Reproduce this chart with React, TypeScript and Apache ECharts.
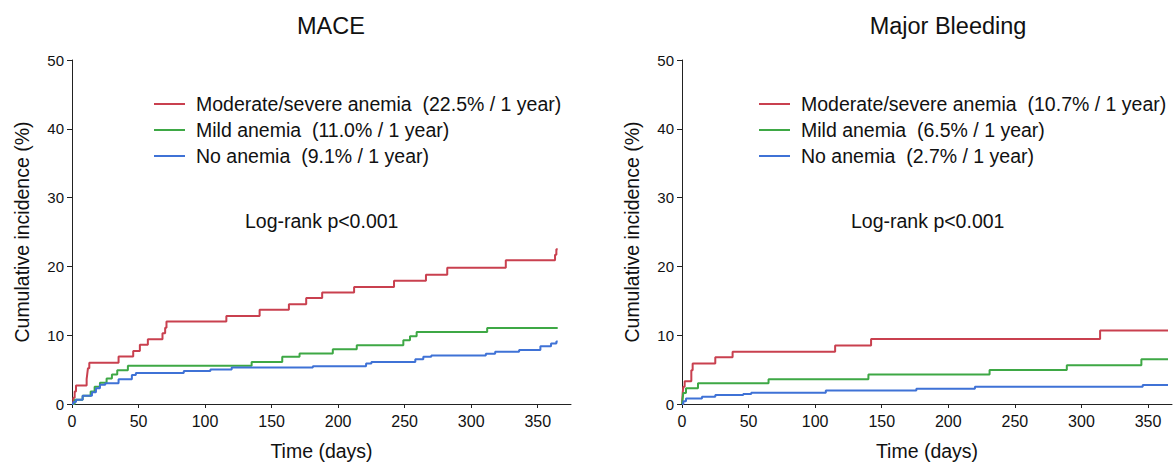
import React, { useEffect, useRef } from "react";
import * as echarts from "echarts";

const xTickValues = [0, 50, 100, 150, 200, 250, 300, 350];
const titles = ["MACE", "Major Bleeding"];
const legendLeft = [
  "Moderate/severe anemia  (22.5% / 1 year)",
  "Mild anemia  (11.0% / 1 year)",
  "No anemia  (9.1% / 1 year)",
];
const legendRight = [
  "Moderate/severe anemia  (10.7% / 1 year)",
  "Mild anemia  (6.5% / 1 year)",
  "No anemia  (2.7% / 1 year)",
];

const maceSevere = [[0,0],[1,0.9],[2,1.8],[3,2.7],[11,3.6],[11.5,4.4],[12,5.2],[13,6.0],[35,6.9],[46,7.7],[51,8.6],[57,9.4],[68,10.3],[70,11.1],[71,12.0],[116,12.8],[141,13.7],[163,14.5],[176,15.4],[188,16.2],[212,17.0],[242,17.9],[266,18.8],[282,19.8],[326,20.9],[363,21.7],[364,22.5],[365,22.5]];
const maceMild = [[0,0],[2,0.6],[8,1.2],[14,1.8],[17,2.5],[21,3.1],[26,3.7],[30,4.3],[34,4.9],[42,5.55],[135,6.1],[158,6.85],[171,7.35],[196,7.95],[214,8.55],[249,9.25],[254,9.85],[259,10.45],[312,11.05],[365,11.05]];
const maceNone = [[0,0],[1,0.3],[3,0.6],[8,1.2],[15,1.7],[18,2.3],[21,2.8],[25,3.0],[35,3.6],[45,4.2],[48,4.5],[84,4.8],[104,5.0],[120,5.3],[181,5.5],[221,5.9],[225,6.1],[258,6.5],[264,6.85],[270,7.05],[311,7.3],[318,7.6],[336,7.85],[352,8.4],[360,8.8],[364,9.1],[365,9.1]];

const bleedSevere = [[0,0],[0.5,1.6],[1,2.5],[2,3.3],[7,4.9],[8,5.9],[25,6.8],[38,7.6],[115,8.5],[142,9.45],[314,10.7],[365,10.7]];
const bleedMild = [[0,0],[0.5,0.8],[1,1.6],[3,2.3],[12,3.0],[65,3.6],[140,4.3],[231,4.95],[289,5.65],[345,6.5],[365,6.5]];
const bleedNone = [[0,0],[1,0.4],[3,0.8],[15,1.05],[25,1.3],[46,1.45],[52,1.65],[108,1.95],[176,2.2],[220,2.5],[346,2.75],[365,2.75]];

const colors = ["#c9404f", "#3ea845", "#3f72d6"];
const FONT = "Liberation Sans, Arial, sans-serif";

export default function App() {
  const ref = useRef<HTMLDivElement>(null);
  useEffect(() => {
    if (!ref.current) return;
    const chart = echarts.init(ref.current, null, { renderer: "svg" });
    const axisCommonX = (gi: number, max: number) => ({
      type: "value",
      gridIndex: gi,
      min: 0,
      max,
      name: "Time (days)",
      nameLocation: "middle",
      nameGap: 37,
      nameTextStyle: { fontSize: 19.5, color: "#111", fontFamily: FONT },
      axisLine: { show: true, lineStyle: { color: "#222", width: 1 } },
      axisTick: { show: true, length: 4, lineStyle: { color: "#222" }, customValues: xTickValues },
      axisLabel: { fontSize: 16, color: "#111", fontFamily: FONT, margin: 9, customValues: xTickValues },
      splitLine: { show: false },
    });
    const axisCommonY = (gi: number) => ({
      type: "value",
      gridIndex: gi,
      min: 0,
      max: 50,
      interval: 10,
      name: "Cumulative incidence (%)",
      nameLocation: "middle",
      nameGap: 40,
      nameTextStyle: { fontSize: 19.5, color: "#111", fontFamily: FONT },
      axisLine: { show: true, lineStyle: { color: "#222", width: 1 } },
      axisTick: { show: true, length: 5, lineStyle: { color: "#222" } },
      axisLabel: { fontSize: 15, color: "#111", fontFamily: FONT, margin: 8 },
      splitLine: { show: false },
    });
    const mk = (name: string, data: number[][], i: number, gi: number) => ({
      type: "line",
      name,
      data,
      step: "end",
      xAxisIndex: gi,
      yAxisIndex: gi,
      showSymbol: false,
      symbol: "none",
      lineStyle: { color: colors[i], width: 2 },
      itemStyle: { color: colors[i] },
    });
    const legendBase = {
      orient: "vertical",
      top: 89,
      itemWidth: 31,
      itemHeight: 2,
      itemGap: 6,
      icon: "rect",
      textStyle: { fontSize: 19.5, color: "#111", fontFamily: FONT, padding: [0, 0, 0, 6] },
    };
    chart.setOption({
      animation: false,
      backgroundColor: "#fff",
      title: [
        { text: titles[0], left: 326, top: 9, textAlign: "center", textStyle: { fontSize: 23.5, fontWeight: "normal", color: "#111", fontFamily: FONT } },
        { text: titles[1], left: 943, top: 9, textAlign: "center", textStyle: { fontSize: 23.5, fontWeight: "normal", color: "#111", fontFamily: FONT } },
      ],
      legend: [
        { ...legendBase, data: legendLeft, left: 149 },
        { ...legendBase, data: legendRight, left: 754 },
      ],
      grid: [
        { left: 72, top: 60, width: 499, height: 344 },
        { left: 682, top: 60, width: 490, height: 344 },
      ],
      xAxis: [axisCommonX(0, 375), axisCommonX(1, 368)],
      yAxis: [axisCommonY(0), axisCommonY(1)],
      graphic: [
        { type: "text", left: 245, top: 211, style: { text: "Log-rank p<0.001", fontSize: 19.5, fill: "#111", fontFamily: FONT } },
        { type: "text", left: 851, top: 211, style: { text: "Log-rank p<0.001", fontSize: 19.5, fill: "#111", fontFamily: FONT } },
      ],
      series: [
        mk(legendLeft[0], maceSevere, 0, 0),
        mk(legendLeft[1], maceMild, 1, 0),
        mk(legendLeft[2], maceNone, 2, 0),
        mk(legendRight[0], bleedSevere, 0, 1),
        mk(legendRight[1], bleedMild, 1, 1),
        mk(legendRight[2], bleedNone, 2, 1),
      ],
    });
    return () => chart.dispose();
  }, []);
  return (
    <div
      ref={ref}
      style={{ position: "absolute", left: 0, top: 0, width: 1176, height: 466, background: "#fff" }}
    />
  );
}
